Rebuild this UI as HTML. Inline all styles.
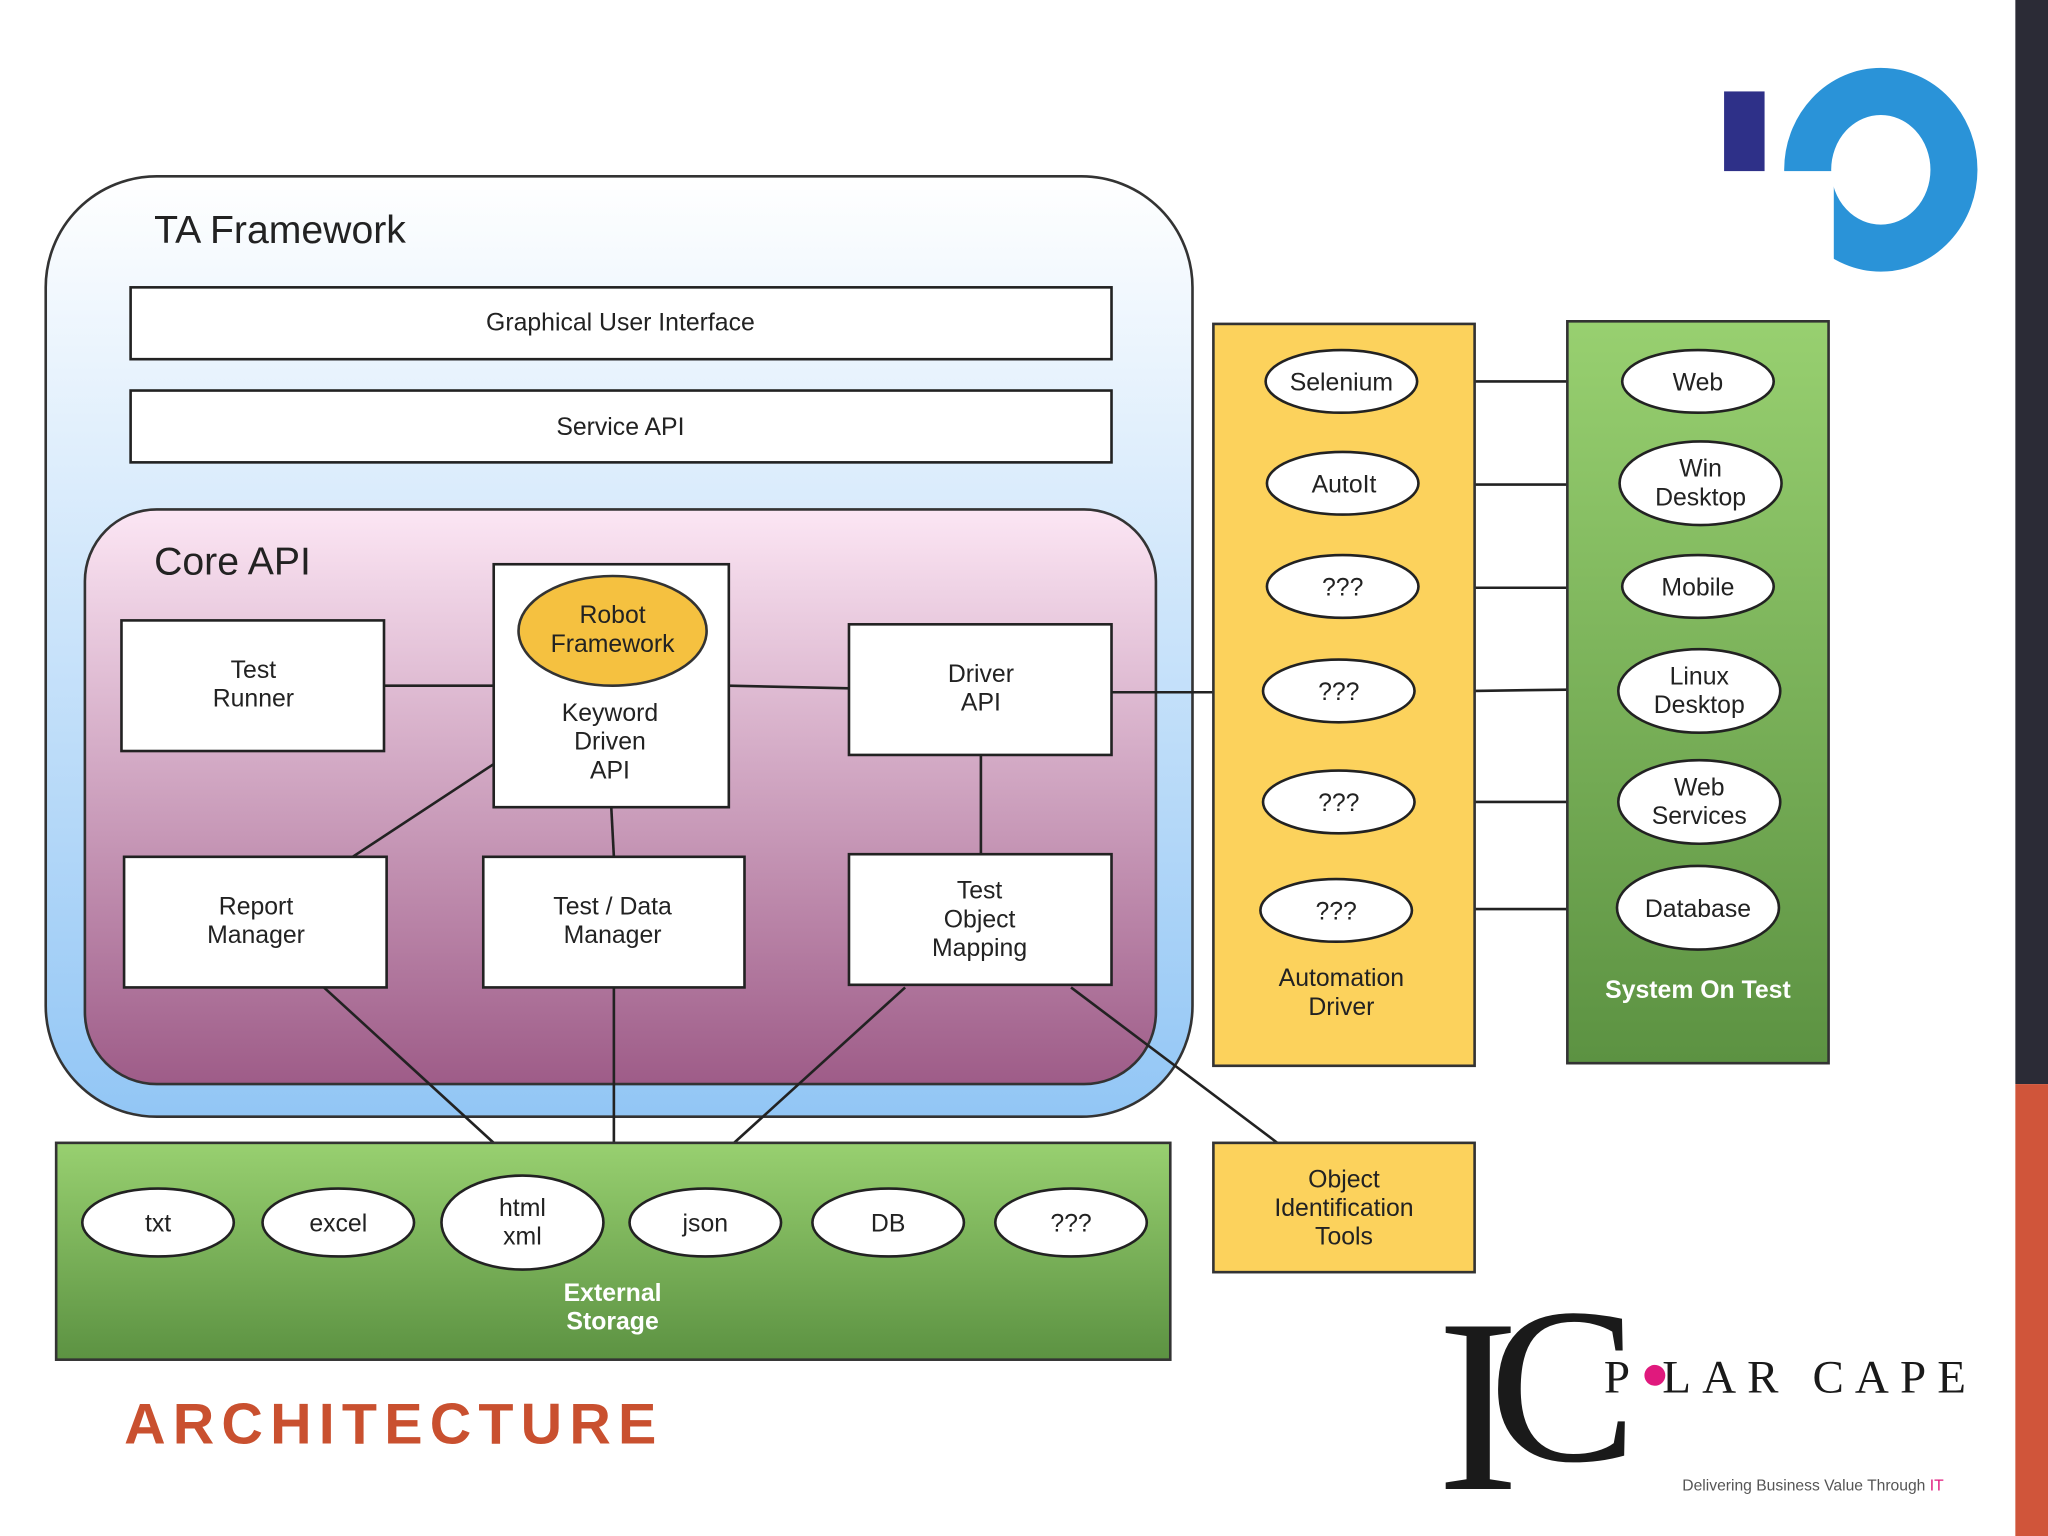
<!DOCTYPE html>
<html><head><meta charset="utf-8"><style>
html,body{margin:0;padding:0;background:#fff}
svg{display:block}
text{font-family:"Liberation Sans",sans-serif;fill:#222}
</style></head><body>
<svg width="2048" height="1536" viewBox="0 0 1568 1176" xmlns="http://www.w3.org/2000/svg">
<defs>
<linearGradient id="ta" x1="0" y1="0" x2="0" y2="1"><stop offset="0" stop-color="#ffffff"/><stop offset="1" stop-color="#92c6f5"/></linearGradient>
<linearGradient id="core" x1="0" y1="0" x2="0" y2="1"><stop offset="0" stop-color="#fce6f4"/><stop offset="1" stop-color="#9e5c88"/></linearGradient>
<linearGradient id="gr" x1="0" y1="0" x2="0" y2="1"><stop offset="0" stop-color="#98d070"/><stop offset="1" stop-color="#5c9242"/></linearGradient>
</defs>
<rect x="1543" y="0" width="25" height="830" fill="#2b2b36"/>
<rect x="1543" y="830" width="25" height="346" fill="#d0553a"/>
<!-- IO logo -->
<rect x="1320" y="70" width="31" height="61" fill="#2e3088"/>
<ellipse cx="1440" cy="130" rx="56" ry="60" fill="none" stroke="#2a93d8" stroke-width="36"/>
<rect x="1360" y="131" width="44" height="80" fill="#fff"/>
<!-- TA Framework -->
<rect x="35" y="135" width="878" height="720" rx="85" fill="url(#ta)" stroke="#333" stroke-width="2"/>
<text x="118" y="186" font-size="30">TA Framework</text>
<rect x="100" y="220" width="751" height="55" fill="#fff" stroke="#222" stroke-width="2"/>
<text x="475" y="253" font-size="19" text-anchor="middle">Graphical User Interface</text>
<rect x="100" y="299" width="751" height="55" fill="#fff" stroke="#222" stroke-width="2"/>
<text x="475" y="333" font-size="19" text-anchor="middle">Service API</text>
<rect x="65" y="390" width="820" height="440" rx="55" fill="url(#core)" stroke="#333" stroke-width="2"/>
<text x="118" y="440" font-size="30">Core API</text>
<g stroke="#222" stroke-width="2" fill="none">
<line x1="294" y1="525" x2="378" y2="525"/>
<line x1="558" y1="525" x2="650" y2="527"/>
<line x1="751" y1="578" x2="751" y2="654"/>
<line x1="270" y1="656" x2="378" y2="585"/>
<line x1="468" y1="618" x2="470" y2="656"/>
<line x1="851" y1="530" x2="929" y2="530"/>
<line x1="248" y1="756" x2="378" y2="875"/>
<line x1="470" y1="756" x2="470" y2="875"/>
<line x1="693" y1="756" x2="562" y2="875"/>
<line x1="820" y1="756" x2="978" y2="875"/>
<line x1="1129" y1="292" x2="1200" y2="292"/>
<line x1="1129" y1="371" x2="1200" y2="371"/>
<line x1="1129" y1="450" x2="1200" y2="450"/>
<line x1="1129" y1="529" x2="1200" y2="528"/>
<line x1="1129" y1="614" x2="1200" y2="614"/>
<line x1="1129" y1="696" x2="1200" y2="696"/>
</g>
<g fill="#fff" stroke="#222" stroke-width="2">
<rect x="93" y="475" width="201" height="100"/>
<rect x="378" y="432" width="180" height="186"/>
<rect x="650" y="478" width="201" height="100"/>
<rect x="95" y="656" width="201" height="100"/>
<rect x="370" y="656" width="200" height="100"/>
<rect x="650" y="654" width="201" height="100"/>
</g>
<ellipse cx="469" cy="483" rx="72" ry="42" fill="#f5c140" stroke="#333" stroke-width="2"/>
<g font-size="19" text-anchor="middle">
<text x="469" y="477">Robot</text><text x="469" y="499">Framework</text>
<text x="194" y="519">Test</text><text x="194" y="541">Runner</text>
<text x="467" y="552">Keyword</text><text x="467" y="574">Driven</text><text x="467" y="596">API</text>
<text x="751" y="522">Driver</text><text x="751" y="544">API</text>
<text x="196" y="700">Report</text><text x="196" y="722">Manager</text>
<text x="469" y="700">Test / Data</text><text x="469" y="722">Manager</text>
<text x="750" y="688">Test</text><text x="750" y="710">Object</text><text x="750" y="732">Mapping</text>
</g>
<rect x="929" y="248" width="200" height="568" fill="#fcd25c" stroke="#333" stroke-width="2"/>
<g fill="#fff" stroke="#222" stroke-width="2">
<ellipse cx="1027" cy="292" rx="58" ry="24"/>
<ellipse cx="1028" cy="370" rx="58" ry="24"/>
<ellipse cx="1028" cy="449" rx="58" ry="24"/>
<ellipse cx="1025" cy="529" rx="58" ry="24"/>
<ellipse cx="1025" cy="614" rx="58" ry="24"/>
<ellipse cx="1023" cy="697" rx="58" ry="24"/>
</g>
<g font-size="19" text-anchor="middle">
<text x="1027" y="299">Selenium</text><text x="1029" y="377">AutoIt</text>
<text x="1028" y="456">???</text><text x="1025" y="536">???</text>
<text x="1025" y="621">???</text><text x="1023" y="704">???</text>
<text x="1027" y="755">Automation</text><text x="1027" y="777">Driver</text>
</g>
<rect x="1200" y="246" width="200" height="568" fill="url(#gr)" stroke="#333" stroke-width="2"/>
<g fill="#fff" stroke="#222" stroke-width="2">
<ellipse cx="1300" cy="292" rx="58" ry="24"/>
<ellipse cx="1302" cy="370" rx="62" ry="32"/>
<ellipse cx="1300" cy="449" rx="58" ry="24"/>
<ellipse cx="1301" cy="529" rx="62" ry="32"/>
<ellipse cx="1301" cy="614" rx="62" ry="32"/>
<ellipse cx="1300" cy="695" rx="62" ry="32"/>
</g>
<g font-size="19" text-anchor="middle">
<text x="1300" y="299">Web</text>
<text x="1302" y="365">Win</text><text x="1302" y="387">Desktop</text>
<text x="1300" y="456">Mobile</text>
<text x="1301" y="524">Linux</text><text x="1301" y="546">Desktop</text>
<text x="1301" y="609">Web</text><text x="1301" y="631">Services</text>
<text x="1300" y="702">Database</text>
<text x="1300" y="764" style="fill:#fff;font-weight:bold">System On Test</text>
</g>
<rect x="43" y="875" width="853" height="166" fill="url(#gr)" stroke="#333" stroke-width="2"/>
<g fill="#fff" stroke="#222" stroke-width="2">
<ellipse cx="121" cy="936" rx="58" ry="26"/>
<ellipse cx="259" cy="936" rx="58" ry="26"/>
<ellipse cx="400" cy="936" rx="62" ry="36"/>
<ellipse cx="540" cy="936" rx="58" ry="26"/>
<ellipse cx="680" cy="936" rx="58" ry="26"/>
<ellipse cx="820" cy="936" rx="58" ry="26"/>
</g>
<g font-size="19" text-anchor="middle">
<text x="121" y="943">txt</text><text x="259" y="943">excel</text>
<text x="400" y="931">html</text><text x="400" y="953">xml</text>
<text x="540" y="943">json</text><text x="680" y="943">DB</text><text x="820" y="943">???</text>
<text x="469" y="996" style="fill:#fff;font-weight:bold">External</text>
<text x="469" y="1018" style="fill:#fff;font-weight:bold">Storage</text>
</g>
<rect x="929" y="875" width="200" height="99" fill="#fcd25c" stroke="#333" stroke-width="2"/>
<g font-size="19" text-anchor="middle">
<text x="1029" y="909">Object</text><text x="1029" y="931">Identification</text><text x="1029" y="953">Tools</text>
</g>
<text x="95" y="1105" font-size="44" font-weight="bold" letter-spacing="5.5" style="fill:#c9502f">ARCHITECTURE</text>
<text x="1100" y="1140" font-size="190" style="font-family:'Liberation Serif',serif;fill:#1a1a1a">I</text>
<text x="1140" y="1118" font-size="170" style="font-family:'Liberation Serif',serif;fill:#1a1a1a">C</text>
<text x="1228" y="1066" font-size="36" letter-spacing="8.5" style="font-family:'Liberation Serif',serif;fill:#1a1a1a">P LAR CAPE</text>
<circle cx="1267" cy="1053" r="8" fill="#e0197d"/>
<text x="1288" y="1141" font-size="12" style="fill:#555">Delivering Business Value Through <tspan style="fill:#e0197d">IT</tspan></text>
</svg>
</body></html>
